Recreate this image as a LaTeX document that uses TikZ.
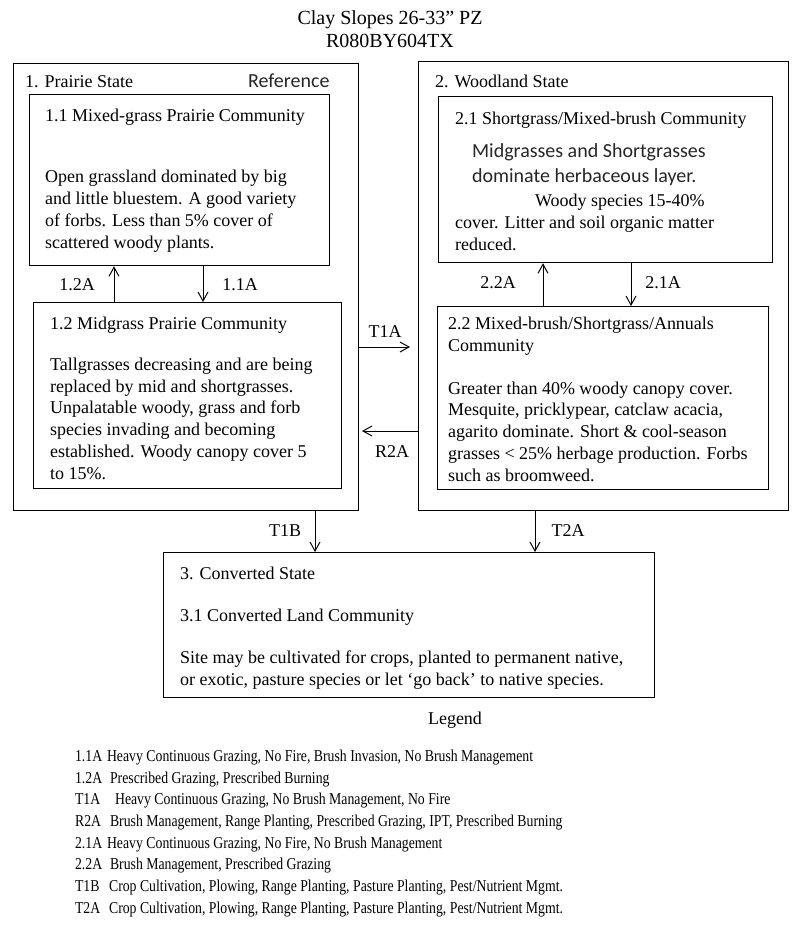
\documentclass[tikz,border=0pt]{standalone}
\usepackage{fontspec}
\setmainfont{Liberation Serif}
\newfontfamily\calfont{Carlito}
\newfontfamily\legfont[FakeStretch=0.83]{Liberation Serif}
\usepackage{tikz}
\usetikzlibrary{arrows.meta}
\newcommand{\bodysize}{\fontsize{51.2}{61.7}\selectfont}
\newcommand{\titlesize}{\fontsize{56.9}{66.9}\selectfont}
\newcommand{\calsize}{\calfont\fontsize{56.9}{68.3}\selectfont}
\newcommand{\legsize}{\legfont\fontsize{47.2}{61.7}\selectfont}
\tikzset{
  box/.style={draw=black, line width=3.6pt, anchor=north west},
  txt/.style={anchor=base west, align=left, font=\bodysize},
  cal/.style={anchor=base west, align=left, font=\calsize, text=black!85},
  ttl/.style={anchor=base, font=\titlesize},
  lbl/.style={font=\bodysize},
  leg/.style={anchor=base west, font=\legsize},
  trans/.style={line width=2.8pt, -{Straight Barb[length=9mm,width=10mm]}}
}

\begin{document}
\begin{tikzpicture}[x=1mm,y=1mm]
    \tikzstyle{every node}+=[inner sep=0pt]
    \useasboundingbox (0,0) rectangle (800,-936);
    \draw (390,-25) node[ttl] (title) {Clay Slopes 26-33” PZ};
    \draw (390,-48) node[ttl] (siteid) {R080BY604TX};
    \node[box, minimum width=345mm, minimum height=447mm] (prairie) at (13,-63) {};
    \node[box, minimum width=300mm, minimum height=171mm] (c11) at (29,-94) {};
    \node[box, minimum width=308mm, minimum height=186mm] (c12) at (33,-302) {};
    \node[box, minimum width=370mm, minimum height=449mm] (woodland) at (418,-61) {};
    \node[box, minimum width=334mm, minimum height=166mm] (c21) at (438,-96) {};
    \node[box, minimum width=331mm, minimum height=183mm] (c22) at (437,-306) {};
    \node[box, minimum width=491mm, minimum height=145mm] (converted) at (163,-552) {};
    \draw (25,-88) node[txt] (s1) {1. Prairie State};
    \draw (248,-88) node[cal] (ref) {Reference};
    \draw (45,-121) node[txt] (h11) {1.1 Mixed-grass Prairie Community};
    \draw (45,-248) node[txt] (t11) {Open grassland dominated by big\\and little bluestem.  A good variety\\of forbs.  Less than 5\% cover of\\scattered woody plants.};
    \draw (50,-329) node[txt] (h12) {1.2 Midgrass Prairie Community};
    \draw (50,-479) node[txt] (t12) {Tallgrasses decreasing and are  being\\replaced by mid and shortgrasses.\\Unpalatable woody, grass and forb\\species invading and becoming\\established. Woody canopy cover 5\\to 15\%.};
    \draw (435,-88) node[txt] (s2) {2. Woodland State};
    \draw (455,-124) node[txt] (h21) {2.1 Shortgrass/Mixed-brush Community};
    \draw (472,-182) node[cal] (c21cal) {Midgrasses and Shortgrasses\\dominate herbaceous layer.};
    \draw (455,-250) node[txt] (t21) {\hspace*{80mm}Woody species 15-40\%\\cover.  Litter and soil organic matter\\reduced.};
    \draw (448,-351) node[txt] (h22) {2.2 Mixed-brush/Shortgrass/Annuals\\Community};
    \draw (448,-481) node[txt] (t22) {Greater than 40\% woody canopy cover.\\Mesquite, pricklypear,  catclaw acacia,\\agarito dominate.  Short \&  cool-season\\grasses < 25\% herbage production.  Forbs\\such as broomweed.};
    \draw (180,-579) node[txt] (s3) {3. Converted State};
    \draw (180,-621) node[txt] (h31) {3.1 Converted Land Community};
    \draw (180,-685) node[txt] (t31) {Site may be cultivated for crops, planted to permanent native,\\or exotic, pasture species or let ‘go back’ to native species.};
    \coordinate (x12a) at (114,0);
    \coordinate (x11a) at (203,0);
    \coordinate (x22a) at (543,0);
    \coordinate (x21a) at (631,0);
    \coordinate (xt1b) at (315,0);
    \coordinate (xt2a) at (535,0);
    \coordinate (t1aend) at (410,-347);
    \coordinate (r2aend) at (362,-431);
    \draw[trans] (c12.north -| x12a) -- (c11.south -| x12a);
    \draw[trans] (c11.south -| x11a) -- (c12.north -| x11a);
    \draw[trans] (c22.north -| x22a) -- (c21.south -| x22a);
    \draw[trans] (c21.south -| x21a) -- (c22.north -| x21a);
    \draw[trans] (prairie.east |- t1aend) -- (t1aend);
    \draw[trans] (woodland.west |- r2aend) -- (r2aend);
    \draw[trans] (prairie.south -| xt1b) -- (converted.north -| xt1b);
    \draw[trans] (woodland.south -| xt2a) -- (converted.north -| xt2a);
    \draw (77,-285) node[lbl] (l12a) {1.2A};
    \draw (240,-285) node[lbl] (l11a) {1.1A};
    \draw (498,-283) node[lbl] (l22a) {2.2A};
    \draw (663,-283) node[lbl] (l21a) {2.1A};
    \draw (385,-332) node[lbl] (lt1a) {T1A};
    \draw (392,-452) node[lbl] (lr2a) {R2A};
    \draw (285,-531) node[lbl] (lt1b) {T1B};
    \draw (568,-531) node[lbl] (lt2a) {T2A};
    \draw (455,-724) node[lbl, anchor=base] (legend) {Legend};
    \draw (75,-761) node[leg] (g1) {\makebox[32mm][l]{1.1A}Heavy Continuous Grazing, No Fire, Brush Invasion, No Brush Management};
    \draw (75,-783) node[leg] (g2) {\makebox[35mm][l]{1.2A}Prescribed Grazing, Prescribed Burning};
    \draw (75,-804) node[leg] (g3) {\makebox[40mm][l]{T1A}Heavy Continuous Grazing, No Brush Management, No Fire};
    \draw (75,-826) node[leg] (g4) {\makebox[35mm][l]{R2A}Brush Management, Range Planting, Prescribed Grazing, IPT, Prescribed Burning};
    \draw (75,-848) node[leg] (g5) {\makebox[32mm][l]{2.1A}Heavy Continuous Grazing, No Fire, No Brush Management};
    \draw (75,-869) node[leg] (g6) {\makebox[35mm][l]{2.2A}Brush Management, Prescribed Grazing};
    \draw (75,-891) node[leg] (g7) {\makebox[34mm][l]{T1B}Crop Cultivation, Plowing, Range Planting, Pasture Planting, Pest/Nutrient Mgmt.};
    \draw (75,-913) node[leg] (g8) {\makebox[34mm][l]{T2A}Crop Cultivation, Plowing, Range Planting, Pasture Planting, Pest/Nutrient Mgmt.};
\end{tikzpicture}
\end{document}
